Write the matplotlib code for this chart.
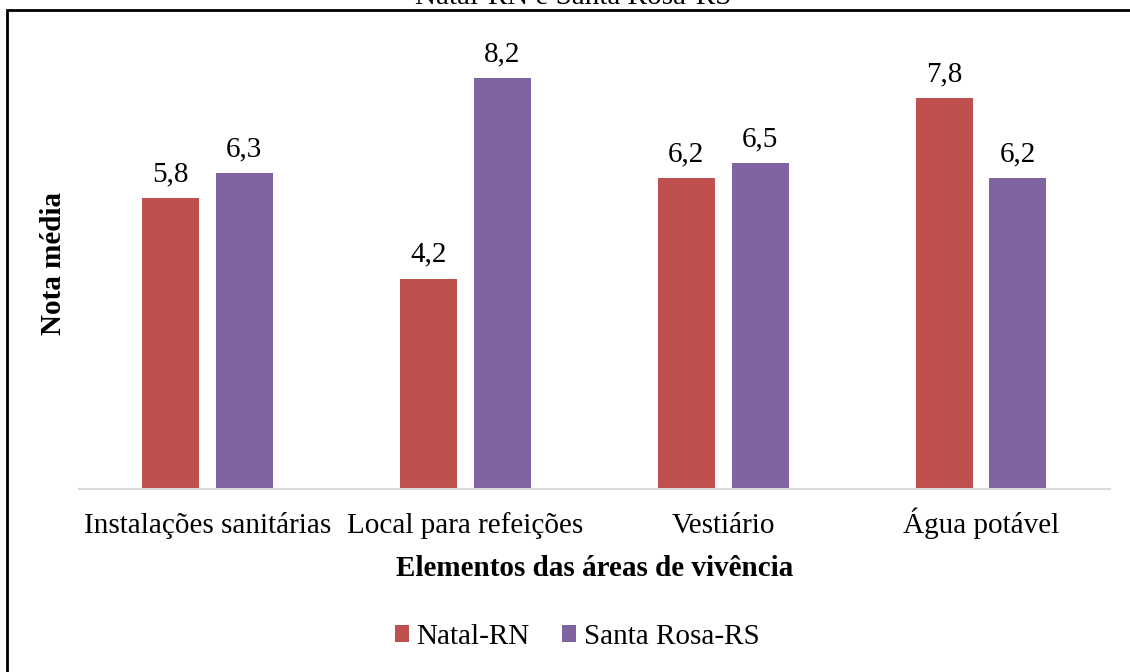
import matplotlib

matplotlib.use("Agg")
import matplotlib.pyplot as plt
from matplotlib.patches import Rectangle
import numpy as np

categories = ["Instalações sanitárias", "Local para refeições", "Vestiário", "Água potável"]
natal = [5.8, 4.2, 6.2, 7.8]
santa_rosa = [6.3, 8.2, 6.5, 6.2]
series_names = ["Natal-RN", "Santa Rosa-RS"]

RED = "#C0504D"
PURPLE = "#8064A2"
FS = 21

plt.rcParams["font.family"] = ["Liberation Serif", "DejaVu Serif"]

W, H = 1130, 672
fig = plt.figure(figsize=(W / 100, H / 100), dpi=100)
ax = fig.add_axes([78.5 / W, 1 - 489 / H, (1110 - 78.5) / W, (489 - 38) / H])

x = np.arange(len(categories))
bw = 0.221
off = 0.143
b1 = ax.bar(x - off, natal, bw, color=RED, label=series_names[0])
b2 = ax.bar(x + off, santa_rosa, bw, color=PURPLE, label=series_names[1])

for bars, vals in ((b1, natal), (b2, santa_rosa)):
    for r, v in zip(bars, vals):
        ax.annotate(f"{v:.1f}".replace(".", ","), (r.get_x() + r.get_width() / 2, v),
                    xytext=(0, 8), textcoords="offset points",
                    ha="center", va="bottom", fontsize=FS)

ax.set_xlim(-0.5, len(categories) - 0.5)
ax.set_ylim(0, 9)
ax.set_xticks(x)
ax.set_xticklabels(categories, fontsize=FS, va="baseline")
ax.tick_params(axis="x", length=0, pad=32)
ax.set_yticks([])
for s in ("top", "right", "left"):
    ax.spines[s].set_visible(False)
ax.spines["bottom"].set_color("#D9D9D9")
ax.spines["bottom"].set_linewidth(1.5)

ax.set_xlabel("Elementos das áreas de vivência", fontsize=FS, fontweight="bold", labelpad=11)
ax.set_ylabel("Nota média", fontsize=FS, fontweight="bold", labelpad=8)

fig.legend(loc="center", bbox_to_anchor=(577 / W, 1 - 637 / H), ncol=2, frameon=False,
           fontsize=FS, handlelength=0.5, handleheight=0.5, handletextpad=0.25,
           columnspacing=1.1)

# outer border (continues past the right and bottom edge of the crop)
fig.patches.append(Rectangle((7 / W, -0.1), 1.2, 1 - 10 / H + 0.1,
                             transform=fig.transFigure, fill=False,
                             edgecolor="black", linewidth=2))
fig.text(573 / W, 1 - 4 / H, "Natal-RN e Santa Rosa-RS", ha="center", va="baseline", fontsize=FS)

fig.savefig("out.png", dpi=100)
